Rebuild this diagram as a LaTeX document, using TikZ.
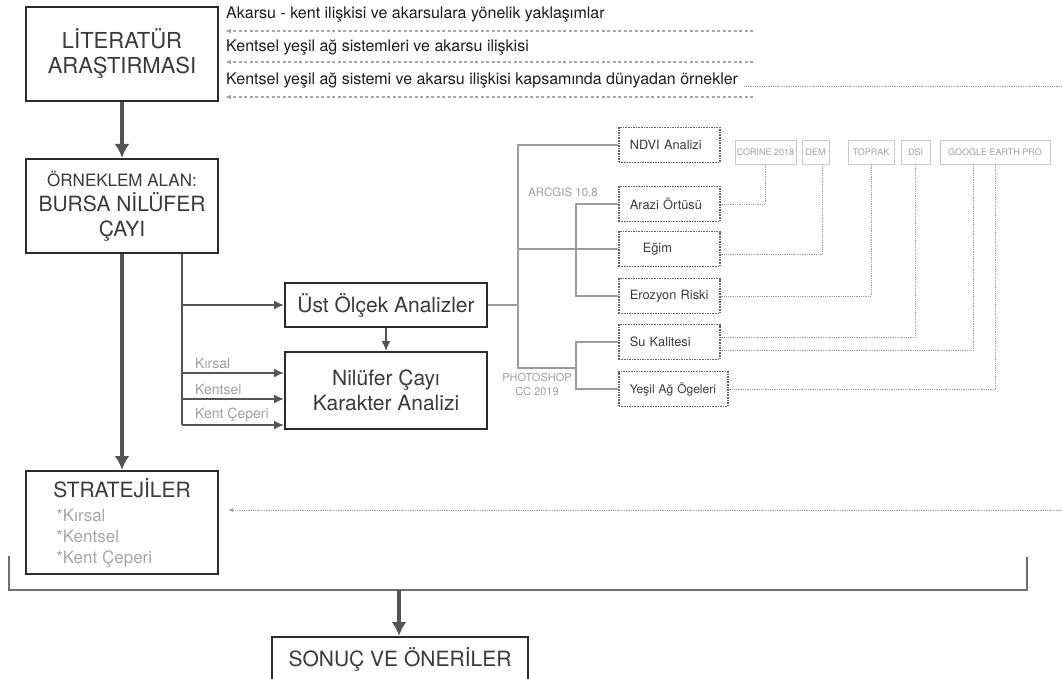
\documentclass[tikz,border=0pt]{standalone}
\usepackage{fontspec}
\setmainfont{TeX Gyre Heros}
\usetikzlibrary{arrows.meta}

\definecolor{boxline}{HTML}{2B2B2B}
\definecolor{maintext}{HTML}{3A3A3A}
\definecolor{ink}{HTML}{1C1C1C}
\definecolor{flow}{HTML}{555555}
\definecolor{branch}{HTML}{9C9C9C}
\definecolor{soft}{HTML}{A6A6A6}
\definecolor{srcline}{HTML}{CACACA}
\definecolor{hint}{HTML}{9E9E9E}

\newcommand{\fsz}[2]{\fontsize{#1}{#2}\selectfont}

\begin{document}
\begin{tikzpicture}[x=1pt,y=-1pt,
  mainbox/.style={draw=boxline,line width=2pt,text=maintext,align=center,inner sep=0pt},
  toolbox/.style={draw=flow!90!white,densely dotted,line width=1.6pt,text=maintext,inner xsep=11pt,inner ysep=0pt,
    minimum height=35pt,text width=79pt,align=left,font=\fsz{12.8}{15}},
  srcbox/.style={draw=srcline,line width=0.9pt,text=hint,inner sep=0pt,minimum height=24pt,font=\fsz{9}{11}},
  mainflow/.style={draw=flow,line width=3.5pt,-{Latex[length=14pt,width=15pt]}},
  subflow/.style={draw=flow,line width=1.5pt,-{Latex[length=10pt,width=9pt]}},
  flowline/.style={draw=flow,line width=1.5pt},
  branchline/.style={draw=branch,line width=2pt},
  feed/.style={draw=soft,dash pattern=on 3pt off 2.5pt,line width=1.2pt,-{Latex[length=6pt,width=5pt]}},
  link/.style={draw=hint,densely dotted,line width=0.8pt},
  note/.style={text=hint,inner sep=0pt}
]
\useasboundingbox (0,0) rectangle (1062,679);
\clip (0,0) rectangle (1062,679);

% main column
\node[mainbox,minimum width=192pt,minimum height=94pt,font=\fsz{22}{25}] (lit) at (122,54) {LİTERATÜR\\ARAŞTIRMASI};
\node[mainbox,minimum width=192pt,minimum height=94pt,font=\fsz{21}{25}] (orn) at (122,206)
  {{\fsz{17}{25}ÖRNEKLEM ALAN:}\\BURSA NİLÜFER\\ÇAYI};
\node[mainbox,minimum width=192pt,minimum height=103pt,align=left,font=\fsz{21}{21}] (strat) at (122,522.5)
  {STRATEJİLER\\[3pt]{\color{soft}\fsz{17}{21}\hspace*{3pt}*Kırsal}\\{\color{soft}\fsz{17}{21}\hspace*{3pt}*Kentsel}\\{\color{soft}\fsz{17}{21}\hspace*{3pt}*Kent Çeperi}};
\node[mainbox,minimum width=256pt,minimum height=44pt,font=\fsz{21}{25}] (son) at (400,659) {SONUÇ VE ÖNERİLER};

\node[mainbox,minimum width=202pt,minimum height=44pt,font=\fsz{21}{25}] (ust) at (386,305) {Üst Ölçek Analizler};
\node[mainbox,minimum width=202pt,minimum height=77pt,font=\fsz{21}{25}] (nil) at (386,390.5) {Nilüfer Çayı\\Karakter Analizi};

% literature topics
\node[anchor=west,inner sep=0pt,text=ink,font=\fsz{16}{19}] (lit1) at (226,15) {Akarsu - kent ilişkisi ve akarsulara yönelik yaklaşımlar};
\node[anchor=west,inner sep=0pt,text=ink,font=\fsz{16}{19}] (lit2) at (226,48) {Kentsel yeşil ağ sistemleri ve akarsu ilişkisi};
\node[anchor=west,inner sep=0pt,text=ink,font=\fsz{16}{19}] (lit3) at (226,81) {Kentsel yeşil ağ sistemi ve akarsu ilişkisi kapsamında dünyadan örnekler};

\coordinate (feed1) at (753,31);
\coordinate (feed2) at (753,62);
\coordinate (feed3) at (753,97);
\draw[feed,shorten >=6pt] (feed1) -- (feed1 -| lit.east);
\draw[feed,shorten >=6pt] (feed2) -- (feed2 -| lit.east);
\draw[feed,shorten >=6pt] (feed3) -- (feed3 -| lit.east);

\coordinate (rim) at (1062,0);
\coordinate (tail) at ([xshift=6pt,yshift=-5pt]lit3.east);
\draw[link] (tail) -- (tail -| rim);
\coordinate (back) at (1062,510);
\draw[link,-{Latex[length=5pt,width=4pt]},shorten >=9pt] (back) -- (back -| strat.east);

\draw[mainflow] (lit.south) -- (orn.north);
\draw[mainflow] (orn.south) -- (strat.north);

% bracket to results
\coordinate (bl) at (9,556);
\coordinate (br) at (1027,557);
\coordinate (bb) at (399,590);
\draw[draw=flow!85!white,line width=2pt] (bl) |- (bb) -| (br);
\draw[mainflow] (bb) -- (son.north -| bb);

% analysis branch
\coordinate (k1) at (182,373);
\coordinate (k2) at (182,399);
\coordinate (k3) at (182,425);
\draw[flowline] (orn.south -| k3) -- (k3);
\draw[subflow] (k1 |- ust.west) -- (ust.west);
\draw[subflow] (k1) -- (k1 -| nil.west);
\draw[subflow] (k2) -- (k2 -| nil.west);
\draw[subflow] (k3) -- (k3 -| nil.west);
\draw[subflow] (ust.south) -- (nil.north);

\node[note,anchor=west,font=\fsz{14}{16}] (kirsal) at (195,363) {Kırsal};
\node[note,anchor=west,font=\fsz{14}{16}] (kentsel) at (195,389) {Kentsel};
\node[note,anchor=west,font=\fsz{14}{16}] (ceper) at (195,415) {Kent Çeperi};

% tools
\node[toolbox,anchor=west] (ndvi) at (618,145) {NDVI Analizi};
\node[toolbox,anchor=west] (arazi) at (618,204) {Arazi Örtüsü};
\node[toolbox,anchor=west] (egim) at (618,249) {\hspace*{13pt}Eğim};
\node[toolbox,anchor=west] (erozyon) at (618,296) {Erozyon Riski};
\node[toolbox,anchor=west] (su) at (618,342) {Su Kalitesi};
\node[toolbox,anchor=west,text width=87pt,font=\fsz{12}{15}] (yesil) at (618,389) {Yeşil Ağ Ögeleri};

\coordinate (fork) at (518,368);
\coordinate (twig) at (576,368);
\draw[branchline] (ust.east) -- (ust.east -| fork);
\draw[branchline] (ndvi.west) -| (fork) -- (twig);
\draw[branchline] (egim.west) -- (egim.west -| fork);
\draw[branchline] (arazi.west) -| (twig |- erozyon.west) -- (erozyon.west);
\draw[branchline] (su.west) -| (twig |- yesil.west) -- (yesil.west);

\node[note,font=\fsz{11.5}{14}] (arcgis) at (563,192) {ARCGIS 10.8};
\node[note,font=\fsz{11}{14},align=center] (photoshop) at (537,384) {PHOTOSHOP\\CC 2019};

% data sources
\node[srcbox,minimum width=61pt] (corine) at (765.5,152) {CORINE 2018};
\node[srcbox,minimum width=27pt] (dem) at (815.5,152) {DEM};
\node[srcbox,minimum width=46pt] (toprak) at (871,152) {TOPRAK};
\node[srcbox,minimum width=29pt] (dsi) at (915.5,152) {DSİ};
\node[srcbox,minimum width=110pt] (google) at (995,152) {GOOGLE EARTH PRO};

\draw[link] (arazi.east) -| (corine.south);
\draw[link] ([yshift=-5pt]egim.east) -| ([xshift=7pt]dem.south);
\draw[link] (erozyon.east) -| (toprak.south);
\draw[link] ([yshift=5pt]su.east) -| (dsi.south);
\draw[link] ([yshift=-8pt]su.east) -| ([xshift=-22pt]google.south);
\draw[link] (yesil.east) -| (google.south);

\end{tikzpicture}
\end{document}
